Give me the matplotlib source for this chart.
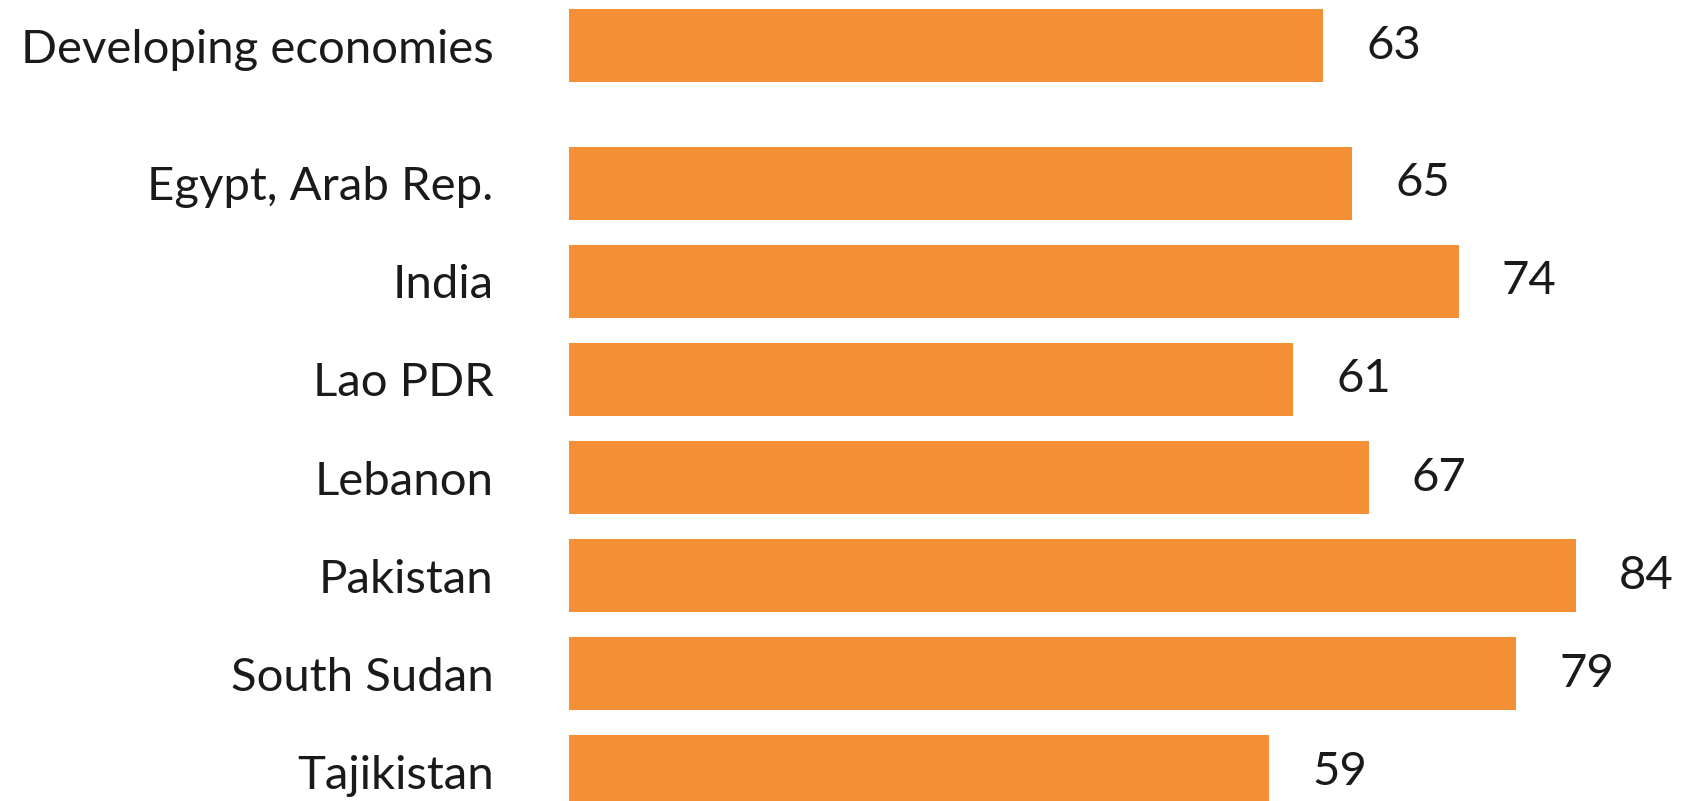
import matplotlib
matplotlib.use("Agg")
import matplotlib.pyplot as plt

categories = ["Developing economies", "Egypt, Arab Rep.", "India", "Lao PDR",
              "Lebanon", "Pakistan", "South Sudan", "Tajikistan"]
values = [63.0, 65.4, 74.3, 60.5, 66.8, 84.1, 79.1, 58.5]
labels = ["63", "65", "74", "61", "67", "84", "79", "59"]
positions = [0, 1.405, 2.405, 3.405, 4.405, 5.405, 6.405, 7.405]

plt.rcParams['font.family'] = ['Lato', 'DejaVu Sans']
fig = plt.figure(figsize=(16.82, 8.01), dpi=100)
ax = fig.add_axes([568.5 / 1682, 0, 1 - 568.5 / 1682, 1])
color = "#F58F35"
text_color = "#1a1a1a"
ax.barh(positions, values, height=0.746, color=color)
ax.set_xlim(0, 92.95)
ax.set_ylim(7.703, -0.464)
ax.set_yticks(positions)
ax.set_yticklabels(categories, fontsize=34, color=text_color)
ax.tick_params(axis='y', length=0, pad=75 * 72 / 100)
ax.set_xticks([])
for s in ax.spines.values():
    s.set_visible(False)
for p, v, lab in zip(positions, values, labels):
    ax.annotate(lab, (v, p), xytext=(31, 0), textcoords="offset points",
                ha="left", va="center", fontsize=34, color=text_color)
fig.savefig("out.png", dpi=100)
